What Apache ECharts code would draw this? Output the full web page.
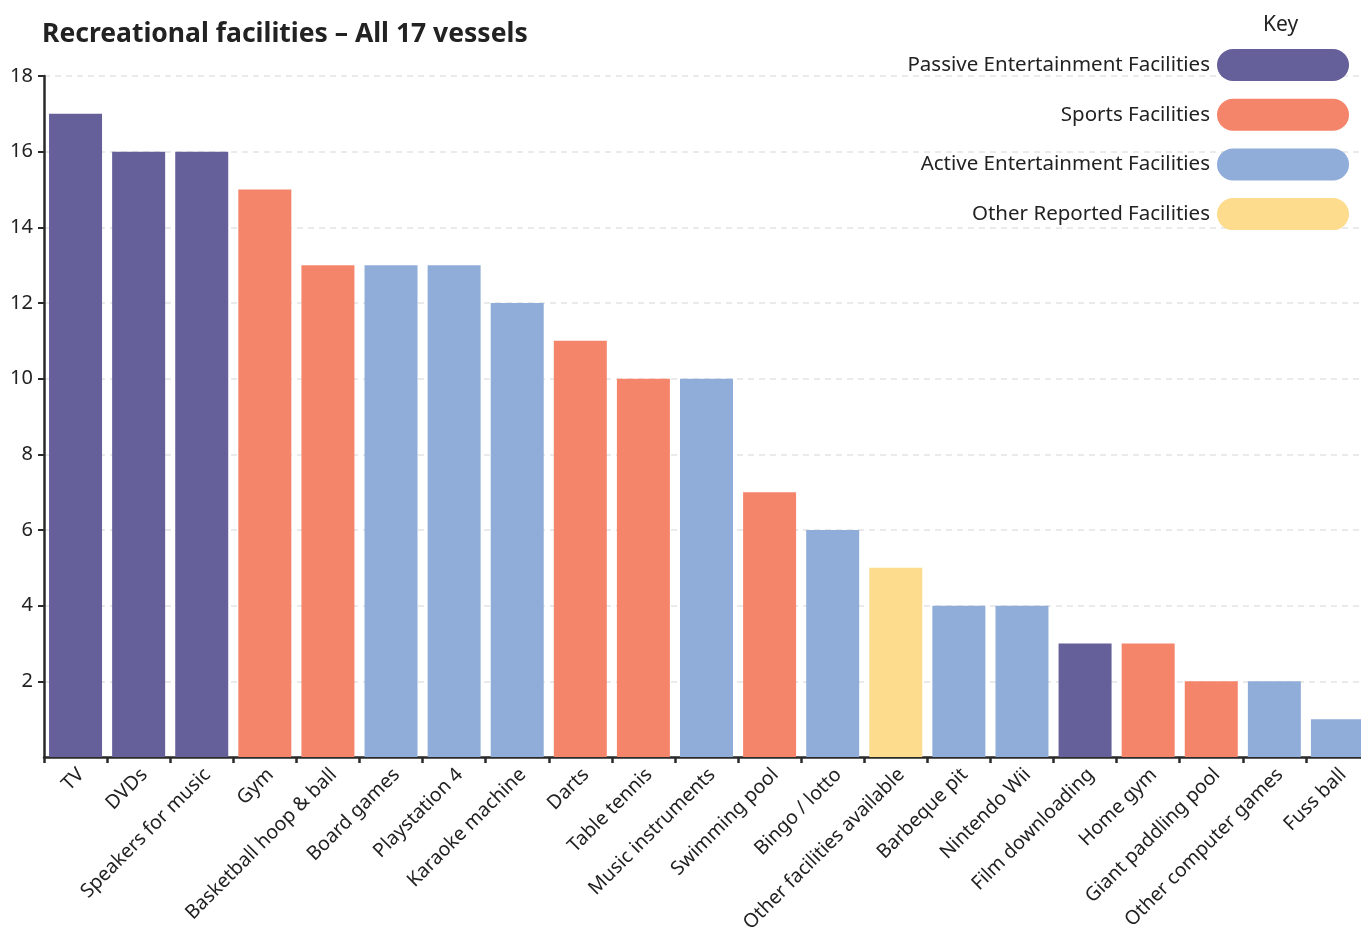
<!DOCTYPE html>
<html>
<head>
<meta charset="utf-8">
<script src="https://cdn.jsdelivr.net/npm/echarts@6/dist/echarts.min.js"></script>
<style>
  html, body { margin: 0; padding: 0; background: #ffffff; }
  #chart { width: 1361px; height: 932px; }
</style>
</head>
<body>
<div id="chart"></div>
<script>
// Facilities reported across the 17 vessels, sorted by count
const categories = [
  'TV', 'DVDs', 'Speakers for music', 'Gym', 'Basketball hoop & ball',
  'Board games', 'Playstation 4', 'Karaoke machine', 'Darts', 'Table tennis',
  'Music instruments', 'Swimming pool', 'Bingo / lotto', 'Other facilities available',
  'Barbeque pit', 'Nintendo Wii', 'Film downloading', 'Home gym',
  'Giant paddling pool', 'Other computer games', 'Fuss ball'
];
const counts = [17, 16, 16, 15, 13, 13, 13, 12, 11, 10, 10, 7, 6, 5, 4, 4, 3, 3, 2, 2, 1];
// Group of each facility (index into groupNames)
const groupOf = [0, 0, 0, 1, 1, 2, 2, 2, 1, 1, 2, 1, 2, 3, 2, 2, 0, 1, 1, 2, 2];
const groupNames = [
  'Passive Entertainment Facilities',
  'Sports Facilities',
  'Active Entertainment Facilities',
  'Other Reported Facilities'
];
const groupColors = ['#655f9a', '#f4846a', '#8fadd8', '#fddc8e'];
const yTicks = [2, 4, 6, 8, 10, 12, 14, 16, 18];

const FONT = '"Noto Sans", "Open Sans", sans-serif';
const pill = 'path://M16,0 H116 A16,16 0 0 1 116,32 H16 A16,16 0 0 1 16,0 Z';

// One stacked series per group, so every bar stays centred on its category
const series = groupNames.map((name, g) => ({
  name: name,
  type: 'bar',
  stack: 'facilities',
  barCategoryGap: '16%',
  itemStyle: { color: groupColors[g] },
  data: counts.map((v, i) => (groupOf[i] === g ? v : '-'))
}));

const chart = echarts.init(document.getElementById('chart'), null, { renderer: 'canvas' });
chart.setOption({
  animation: false,
  textStyle: { fontFamily: FONT },
  title: {
    text: 'Recreational facilities \u2013 All 17 vessels',
    left: 37,
    top: 16,
    textStyle: { fontFamily: FONT, fontSize: 26.5, fontWeight: 'bold', color: '#222222' }
  },
  legend: {
    orient: 'vertical',
    right: 12,
    top: 49,
    padding: 0,
    align: 'right',
    itemWidth: 132,
    itemHeight: 32,
    itemGap: 17.7,
    icon: pill,
    data: groupNames,
    textStyle: { fontFamily: FONT, fontSize: 20.5, color: '#222222', padding: [2, 2, 0, 0] }
  },
  graphic: [{
    type: 'text',
    left: 1263,
    top: 15,
    style: { text: 'Key', font: '21px ' + FONT, fill: '#222222' }
  }],
  grid: {
    left: 44, top: 76, width: 1325, height: 681,
    containLabel: false,
    outerBoundsMode: 'none'
  },
  xAxis: {
    type: 'category',
    data: categories,
    axisLine: { lineStyle: { color: '#2a2a2a', width: 2.5 } },
    axisTick: { show: true, length: 6, lineStyle: { color: '#2a2a2a', width: 2.5 } },
    axisLabel: {
      rotate: 45,
      interval: 0,
      margin: 9,
      fontSize: 19.5,
      lineHeight: 16,
      verticalAlign: 'top',
      color: '#222222',
      fontFamily: FONT
    }
  },
  yAxis: {
    type: 'value',
    min: 0,
    max: 18,
    interval: 2,
    axisLine: { show: true, lineStyle: { color: '#2a2a2a', width: 2.5 } },
    axisTick: { show: true, length: 6, lineStyle: { color: '#2a2a2a', width: 2 } },
    axisLabel: {
      fontSize: 20,
      color: '#222222',
      margin: 11,
      fontFamily: FONT,
      showMinLabel: false,
      formatter: v => (yTicks.indexOf(v) >= 0 ? String(v) : '')
    },
    splitLine: { show: true, lineStyle: { color: '#e3e3e3', type: [6, 5], width: 1.5 } }
  },
  series: series
});
</script>
</body>
</html>
